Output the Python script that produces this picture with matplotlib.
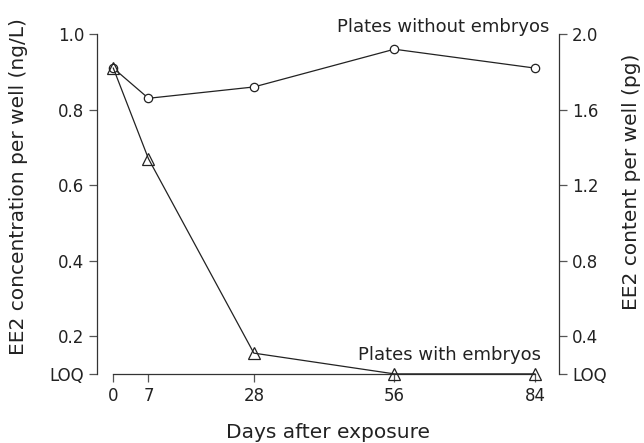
import matplotlib.pyplot as plt

# days after exposure
days = [0, 7, 28, 56, 84]

# EE2 concentration per well (ng/L); LOQ plotted at 0.1
without_embryos = [0.91, 0.83, 0.86, 0.96, 0.91]
with_embryos = [0.91, 0.67, 0.155, 0.1, 0.1]

left_ticks = [0.1, 0.2, 0.4, 0.6, 0.8, 1.0]
left_labels = ['LOQ', '0.2', '0.4', '0.6', '0.8', '1.0']
right_ticks = [0.2, 0.4, 0.8, 1.2, 1.6, 2.0]
right_labels = ['LOQ', '0.4', '0.8', '1.2', '1.6', '2.0']

plt.rcParams['font.family'] = 'DejaVu Sans'
line_col = '#222222'
tick_col = '#555555'
text_col = '#222222'

fig = plt.figure(figsize=(6.44, 4.43), dpi=100)
ax = fig.add_axes([0.151, 0.156, 0.717, 0.767])

ax.plot(days, without_embryos, color=line_col, lw=0.9, marker='o', ms=6,
        mfc='white', mec=line_col, mew=0.9, clip_on=False, zorder=3)
ax.plot(days, with_embryos, color=line_col, lw=0.9, marker='^', ms=8.5,
        mfc='none', mec=line_col, mew=0.9, clip_on=False, zorder=3)

ax.set_xlim(-3.2, 88.8)
ax.set_ylim(0.1, 1.0)
ax.set_xticks(days)
ax.set_yticks(left_ticks)
ax.set_yticklabels(left_labels)

ax.spines['top'].set_visible(False)
ax.spines['right'].set_visible(False)
ax.spines['bottom'].set_bounds(0, 84)
for s in ['left', 'bottom']:
    ax.spines[s].set_color('#333333')
    ax.spines[s].set_linewidth(0.9)
ax.tick_params(axis='both', labelsize=12, length=6, width=0.9,
               color=tick_col, labelcolor=text_col)

ax.set_xlabel('Days after exposure', fontsize=14.5, color=text_col, labelpad=13)
ax.set_ylabel('EE2 concentration per well (ng/L)', fontsize=14.5,
              color=text_col)
ax.yaxis.set_label_coords(-0.15, 0.55)

ax2 = ax.twinx()
ax2.set_ylim(0.2, 2.0)
ax2.set_yticks(right_ticks)
ax2.set_yticklabels(right_labels)
for s in ['top', 'left', 'bottom']:
    ax2.spines[s].set_visible(False)
ax2.spines['right'].set_color('#333333')
ax2.spines['right'].set_linewidth(0.9)
ax2.tick_params(axis='y', labelsize=12, length=6, width=0.9,
                color=tick_col, labelcolor=text_col)
ax2.set_ylabel('EE2 content per well (pg)', fontsize=14.5, color=text_col)
ax2.yaxis.set_label_coords(1.136, 0.565)

ax.text(86.8, 0.995, 'Plates without embryos', fontsize=13, color=text_col,
        ha='right', va='bottom')
ax.text(85.2, 0.125, 'Plates with embryos', fontsize=13, color=text_col,
        ha='right', va='bottom')

fig.savefig('out.png', dpi=100)
